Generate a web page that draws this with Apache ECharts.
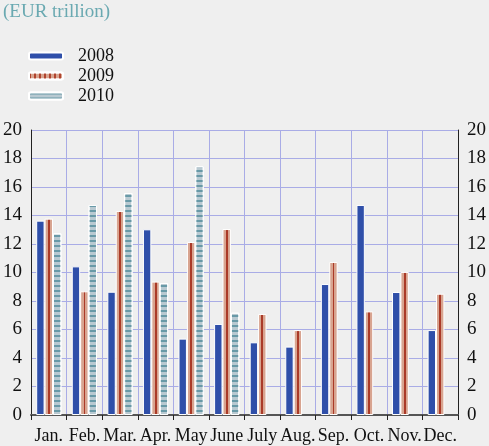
<!DOCTYPE html>
<html>
<head>
<meta charset="utf-8">
<script src="https://cdn.jsdelivr.net/npm/echarts@6/dist/echarts.min.js"></script>
<style>
html,body{margin:0;padding:0;background:#efefef;}
#chart{width:489px;height:446px;}
</style>
</head>
<body>
<div id="chart"></div>
<script>
// 数据
var months = ['Jan.', 'Feb.', 'Mar.', 'Apr.', 'May', 'June', 'July', 'Aug.', 'Sep.', 'Oct.', 'Nov.', 'Dec.'];
var values2008 = [13.64, 10.43, 8.65, 13.03, 5.36, 6.39, 5.10, 4.80, 9.19, 14.74, 8.63, 5.96];
var values2009 = [13.78, 8.68, 14.32, 9.36, 12.14, 13.05, 7.09, 5.96, 10.74, 7.27, 10.04, 8.51];
var values2010 = [12.75, 14.74, 15.58, 9.26, 17.47, 7.18, null, null, null, null, null, null];
var yTicks = [0, 2, 4, 6, 8, 10, 12, 14, 16, 18, 20];

var fontFamily = '"Liberation Serif", "DejaVu Serif", serif';
var gridColor = '#a9ace6';
var barWidth = 8.4;

var myChart = echarts.init(document.getElementById('chart'));

//2009: 浅红色柱子，中间一条深红竖线
var color2009 = new echarts.graphic.LinearGradient(0, 0, 1, 0, [
	{offset: 0, color: '#d8a490'},
	{offset: 0.4, color: '#d8a490'},
	{offset: 0.4, color: '#aa3a28'},
	{offset: 0.62, color: '#aa3a28'},
	{offset: 0.62, color: '#d8a490'},
	{offset: 1, color: '#d8a490'}
]);

//2010: 横向条纹
var decal2010 = {
	symbol: 'rect',
	symbolSize: 1,
	dashArrayX: [1, 0],
	dashArrayY: [1.6, 2.7],
	color: '#6899a7'
};

function yAxisOf(position)
{
	return {
		type: 'value',
		position: position,
		min: yTicks[0],
		max: yTicks[yTicks.length - 1],
		interval: 2,
		axisLine: {show: true, lineStyle: {color: '#222', width: 1}},
		axisTick: {show: false},
		axisLabel: {color: '#111', fontFamily: fontFamily, fontSize: 19, margin: 9},
		splitLine: {show: position == 'left', lineStyle: {color: gridColor, width: 1}}
	};
}

var option = {
	backgroundColor: '#efefef',
	animation: false,
	title: {
		text: '(EUR trillion)',
		left: 0,
		top: 3,
		padding: [0, 0, 0, 3],
		textStyle: {color: '#6aa9b1', fontFamily: fontFamily, fontSize: 19, fontWeight: 'normal'}
	},
	legend: {
		orient: 'vertical',
		left: 23,
		top: 42,
		itemWidth: 34,
		itemHeight: 7,
		itemGap: 2,
		textStyle: {color: '#111', fontFamily: fontFamily, fontSize: 18, padding: [0, 0, 0, 10]},
		data: [
			{name: '2008'},
			//图例中2009为竖条纹
			{name: '2009', itemStyle: {color: '#d8a490', decal: {
				symbol: 'rect', symbolSize: 1, dashArrayX: [1.5, 3], dashArrayY: [1, 0], color: '#b0442e'
			}}},
			{name: '2010'}
		]
	},
	grid: {left: 30, right: 28, top: 130, bottom: 31},
	xAxis: {
		type: 'category',
		data: months,
		axisLine: {show: true, lineStyle: {color: '#555', width: 2}},
		axisTick: {show: true, interval: 0, length: 5, lineStyle: {color: '#222'}},
		axisLabel: {color: '#111', fontFamily: fontFamily, fontSize: 18, margin: 12, interval: 0},
		splitLine: {show: true, interval: 0, lineStyle: {color: gridColor, width: 1}}
	},
	yAxis: [yAxisOf('left'), yAxisOf('right')],
	series: [
		{
			name: '2008',
			type: 'bar',
			data: values2008,
			barWidth: barWidth,
			barGap: 0,
			itemStyle: {color: '#2f4fa9', borderColor: '#fff', borderWidth: 1}
		},
		{
			name: '2009',
			type: 'bar',
			data: values2009,
			barWidth: barWidth,
			barGap: 0,
			itemStyle: {color: color2009, borderColor: '#fff', borderWidth: 1}
		},
		{
			name: '2010',
			type: 'bar',
			data: values2010,
			barWidth: barWidth,
			barGap: 0,
			itemStyle: {color: '#b8c9d1', borderColor: '#fff', borderWidth: 1, decal: decal2010}
		}
	]
};

myChart.setOption(option);
</script>
</body>
</html>
